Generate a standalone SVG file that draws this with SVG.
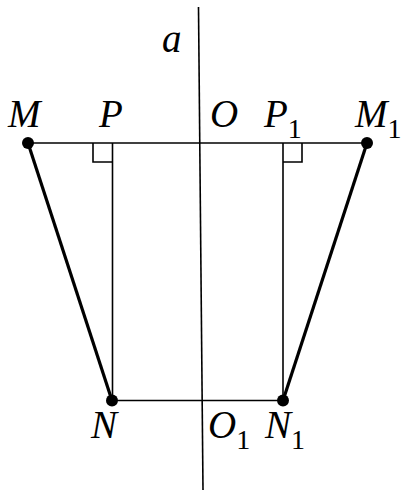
<svg xmlns="http://www.w3.org/2000/svg" width="402" height="492" viewBox="0 0 402 492">
<style>
.ln{stroke:#000;stroke-width:1.6;fill:none}
.thk{stroke:#000;stroke-width:3.2;fill:none}
text{font-family:'Liberation Serif','Times New Roman',serif;font-style:italic;font-size:39px;fill:#000}
tspan{font-style:normal;font-size:28px}
</style>
<rect width="402" height="492" fill="#fff"/>
<g id="connectors">
<line class="ln" x1="198.5" y1="7" x2="203" y2="490"/>
<line class="ln" x1="28" y1="143" x2="367" y2="143"/>
<line class="ln" x1="112" y1="400.5" x2="283" y2="400.5"/>
<line class="ln" x1="112.5" y1="143" x2="112.5" y2="400.5"/>
<line class="ln" x1="283" y1="143" x2="283" y2="400.5"/>
<polyline class="ln" points="93,143 93,162 112.5,162"/>
<polyline class="ln" points="283,162 302,162 302,143"/>
<line class="thk" x1="28" y1="143" x2="112" y2="400.5"/>
<line class="thk" x1="367" y1="143" x2="283" y2="400.5"/>
</g>
<g id="M"><circle cx="28" cy="143" r="6"/><text x="8" y="126.5">M</text></g>
<g id="P"><text x="99" y="126.5">P</text></g>
<g id="O"><text x="210" y="127">O</text></g>
<g id="P1"><text x="264" y="126.5">P<tspan dy="11">1</tspan></text></g>
<g id="M1"><circle cx="367" cy="143" r="6"/><text x="355" y="126.5">M<tspan dy="11">1</tspan></text></g>
<g id="N"><circle cx="112" cy="400.5" r="6"/><text x="91" y="438">N</text></g>
<g id="O1"><text x="208" y="438">O<tspan dy="11">1</tspan></text></g>
<g id="N1"><circle cx="283" cy="400.5" r="6"/><text x="265" y="438">N<tspan dy="11">1</tspan></text></g>
<g id="a"><text x="162" y="52">a</text></g>
</svg>
